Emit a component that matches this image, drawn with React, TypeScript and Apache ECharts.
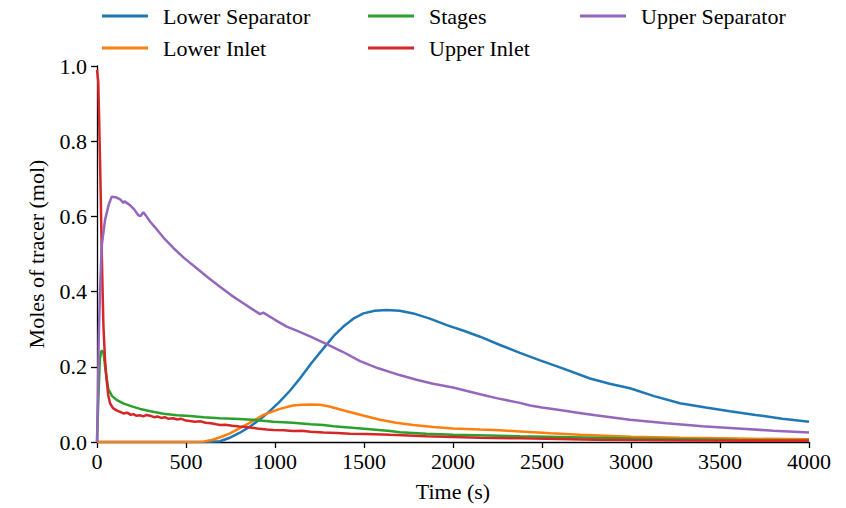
import React, { useEffect, useRef } from "react";
import * as echarts from "echarts";

const xTicks = [0, 500, 1000, 1500, 2000, 2500, 3000, 3500, 4000];
const yTicks = [0.0, 0.2, 0.4, 0.6, 0.8, 1.0];

const seriesNames = ["Lower Separator", "Lower Inlet", "Stages", "Upper Inlet", "Upper Separator"];
const seriesColors = ["#1f77b4", "#ff7f0e", "#2ca02c", "#d62728", "#9467bd"];

const lowerSepT = [0, 600, 691, 750, 800, 860, 920, 970, 1028, 1085, 1140, 1205, 1272, 1330, 1384, 1440, 1497, 1560, 1627, 1700, 1777, 1870, 1965, 2060, 2152, 2264, 2376, 2489, 2620, 2770, 2880, 2994, 3130, 3275, 3420, 3556, 3700, 3850, 4000];
const lowerSepV = [0, 0, 0.002, 0.012, 0.024, 0.041, 0.062, 0.082, 0.108, 0.137, 0.169, 0.21, 0.249, 0.282, 0.307, 0.328, 0.342, 0.349, 0.351, 0.349, 0.342, 0.328, 0.311, 0.296, 0.28, 0.258, 0.237, 0.217, 0.195, 0.169, 0.155, 0.143, 0.122, 0.103, 0.092, 0.082, 0.072, 0.062, 0.054];

const lowerInletT = [0, 550, 597, 650, 700, 747, 800, 870, 935, 1028, 1100, 1150, 1197, 1250, 1300, 1403, 1500, 1590, 1680, 1777, 1890, 2000, 2152, 2264, 2376, 2550, 2713, 3000, 3275, 3600, 4000];
const lowerInletV = [0, 0, 0.001, 0.006, 0.014, 0.023, 0.036, 0.054, 0.072, 0.088, 0.097, 0.099, 0.1, 0.099, 0.095, 0.082, 0.07, 0.059, 0.051, 0.045, 0.04, 0.036, 0.033, 0.031, 0.028, 0.023, 0.019, 0.014, 0.011, 0.009, 0.007];

const stagesT = [0, 8, 16, 25, 36, 48, 64, 85, 110, 150, 200, 242, 300, 373, 450, 522, 600, 691, 800, 900, 991, 1100, 1200, 1272, 1328, 1450, 1550, 1646, 1702, 1850, 2000, 2200, 2376, 2600, 2800, 3000, 3300, 3600, 4000];
const stagesV = [0, 0.12, 0.22, 0.243, 0.24, 0.19, 0.14, 0.122, 0.112, 0.102, 0.094, 0.088, 0.082, 0.075, 0.071, 0.069, 0.066, 0.063, 0.061, 0.058, 0.054, 0.051, 0.047, 0.045, 0.042, 0.037, 0.033, 0.029, 0.026, 0.022, 0.019, 0.017, 0.015, 0.013, 0.011, 0.009, 0.007, 0.005, 0.004];

const upperInletT = [0, 3, 7, 12, 17, 22, 26, 31, 36, 45, 54, 63, 73, 90, 110, 130, 148, 170, 190, 204, 220, 240, 260, 280, 298, 320, 340, 360, 380, 400, 429, 450, 470, 500, 522, 550, 579, 610, 640, 670, 691, 720, 760, 800, 850, 900, 953, 991, 1050, 1100, 1150, 1200, 1272, 1350, 1420, 1515, 1600, 1646, 1750, 1850, 2000, 2150, 2376, 2600, 2800, 3000, 3300, 3600, 4000];
const upperInletV = [0.99, 0.99, 0.96, 0.86, 0.75, 0.63, 0.52, 0.41, 0.31, 0.22, 0.165, 0.125, 0.103, 0.09, 0.084, 0.08, 0.076, 0.078, 0.072, 0.074, 0.07, 0.071, 0.068, 0.072, 0.07, 0.066, 0.068, 0.064, 0.066, 0.062, 0.063, 0.06, 0.062, 0.057, 0.056, 0.054, 0.055, 0.051, 0.05, 0.047, 0.045, 0.046, 0.043, 0.041, 0.039, 0.036, 0.033, 0.032, 0.031, 0.029, 0.03, 0.027, 0.025, 0.024, 0.022, 0.021, 0.02, 0.019, 0.017, 0.015, 0.013, 0.011, 0.01, 0.008, 0.006, 0.005, 0.004, 0.003, 0.003];

const upperSepT = [0, 5, 10, 17, 26, 45, 65, 82, 110, 130, 148, 155, 185, 210, 232, 245, 260, 275, 300, 335, 380, 429, 490, 560, 625, 691, 755, 822, 870, 916, 934, 1000, 1066, 1122, 1200, 1290, 1380, 1478, 1580, 1700, 1800, 1888, 2000, 2152, 2250, 2376, 2433, 2500, 2600, 2700, 2800, 2994, 3200, 3400, 3600, 3800, 4000];
const upperSepV = [0, 0.12, 0.28, 0.4, 0.52, 0.59, 0.63, 0.652, 0.65, 0.645, 0.636, 0.64, 0.63, 0.618, 0.603, 0.601, 0.611, 0.602, 0.585, 0.566, 0.54, 0.516, 0.489, 0.462, 0.437, 0.413, 0.39, 0.369, 0.354, 0.34, 0.344, 0.325, 0.307, 0.296, 0.28, 0.26, 0.24, 0.215, 0.196, 0.178, 0.165, 0.155, 0.145, 0.127, 0.116, 0.104, 0.097, 0.092, 0.085, 0.078, 0.071, 0.059, 0.05, 0.042, 0.036, 0.03, 0.025];

const allT = [lowerSepT, lowerInletT, stagesT, upperInletT, upperSepT];
const allV = [lowerSepV, lowerInletV, stagesV, upperInletV, upperSepV];

const FONT = "Liberation Serif";

export default function App() {
  const ref = useRef<HTMLDivElement>(null);
  useEffect(() => {
    if (!ref.current) return;
    const chart = echarts.init(ref.current, undefined, { renderer: "svg" });
    const legendPos = [
      { left: 102, top: 5 },
      { left: 102, top: 37 },
      { left: 368, top: 5 },
      { left: 368, top: 37 },
      { left: 580, top: 5 },
    ];
    const series = seriesNames.map((name, i) => ({
      name,
      type: "line",
      symbol: "none",
      data: allT[i].map((t, j) => [t, allV[i][j]]),
      lineStyle: { color: seriesColors[i], width: 2.5 },
      itemStyle: { color: seriesColors[i] },
      z: 2 + i,
    }));
    chart.setOption({
      animation: false,
      textStyle: { fontFamily: FONT },
      grid: { left: 97, right: 37, top: 66, bottom: 66 },
      legend: seriesNames.map((name, i) => ({
        data: [{ name, icon: "rect", itemStyle: { color: seriesColors[i] } }],
        left: legendPos[i].left,
        top: legendPos[i].top,
        itemWidth: 46,
        itemHeight: 3,
        padding: 0,
        textStyle: { fontFamily: FONT, fontSize: 22, color: "#000", padding: [0, 0, 0, 10] },
      })),
      xAxis: {
        type: "value",
        min: 0,
        max: 4000,
        interval: 500,
        name: "Time (s)",
        nameLocation: "middle",
        nameGap: 38,
        nameTextStyle: { fontFamily: FONT, fontSize: 22, color: "#000" },
        axisLine: { show: true, lineStyle: { color: "#000", width: 1.3 } },
        axisTick: { show: true, length: 6, lineStyle: { color: "#000", width: 1.3 } },
        axisLabel: { fontFamily: FONT, fontSize: 22, color: "#000", margin: 8, formatter: (v: number) => (xTicks.includes(v) ? String(v) : "") },
        splitLine: { show: false },
      },
      yAxis: {
        type: "value",
        min: 0,
        max: 1,
        interval: 0.2,
        name: "Moles of tracer (mol)",
        nameLocation: "middle",
        nameGap: 50,
        nameTextStyle: { fontFamily: FONT, fontSize: 22, color: "#000" },
        axisLine: { show: true, lineStyle: { color: "#000", width: 1.3 } },
        axisTick: { show: true, length: 6, lineStyle: { color: "#000", width: 1.3 } },
        axisLabel: { fontFamily: FONT, fontSize: 22, color: "#000", margin: 10, formatter: (v: number) => (yTicks.some((y) => Math.abs(y - v) < 1e-9) ? v.toFixed(1) : "") },
        splitLine: { show: false },
      },
      series,
    });
    return () => chart.dispose();
  }, []);
  return <div ref={ref} style={{ width: 846, height: 508, position: "absolute", left: 0, top: 0 }} />;
}
